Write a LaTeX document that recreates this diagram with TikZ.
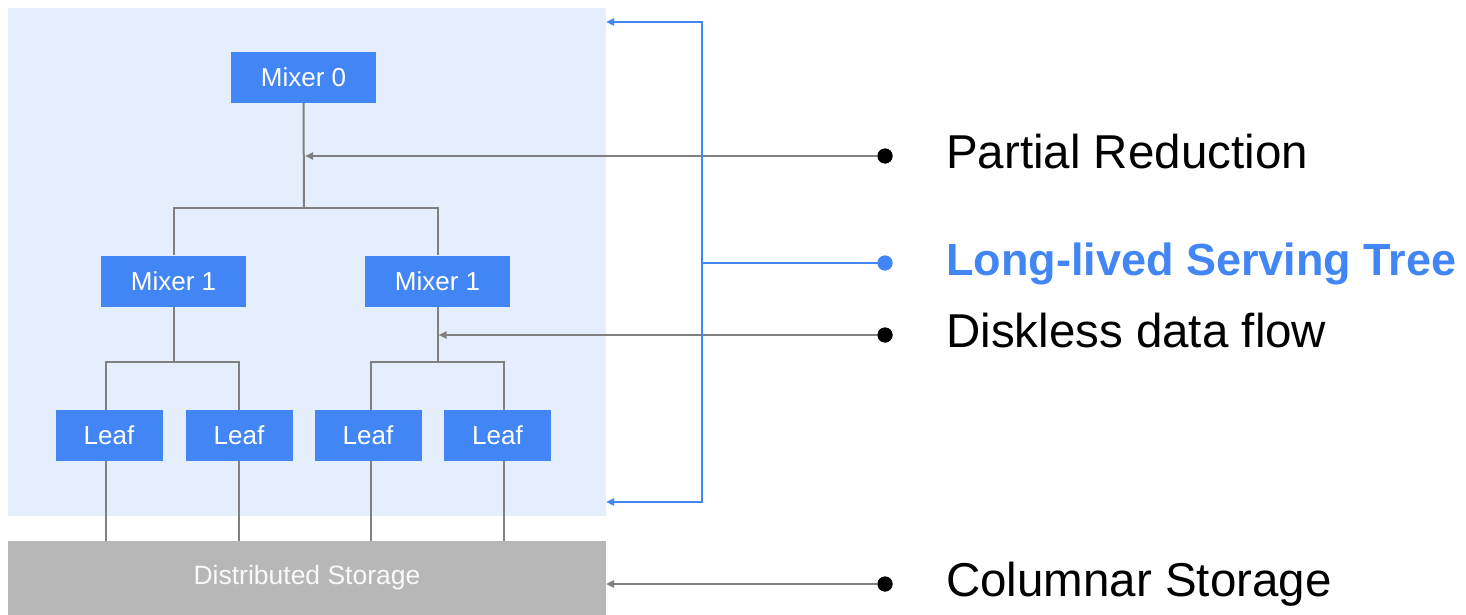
\documentclass[tikz,border=0pt]{standalone}
\usepackage{fontspec}
\setmainfont{Liberation Sans}
\usetikzlibrary{arrows.meta}
\definecolor{gblue}{HTML}{4285F4}
\definecolor{panelblue}{HTML}{E5EEFC}
\definecolor{storegray}{HTML}{B7B7B7}
\definecolor{linegray}{HTML}{808080}
\begin{document}
\begin{tikzpicture}[x=1pt,y=-1pt,
  boxnode/.style={fill=gblue,text=white,inner sep=0pt,minimum height=51pt,font=\fontsize{26}{26}\selectfont},
  mixbox/.style={boxnode,minimum width=145pt},
  leafbox/.style={boxnode,minimum width=107pt},
  tline/.style={draw=linegray,line width=2pt},
  garrow/.style={draw=linegray,line width=2pt,-{Triangle[length=8pt,width=7pt]}},
  bline/.style={draw=gblue,line width=2pt},
  dotnode/.style={circle,inner sep=0pt,minimum size=15pt},
  bigtext/.style={anchor=base west,inner sep=0pt,font=\fontsize{47.5}{47.5}\selectfont}
]
\useasboundingbox (0,0) rectangle (1466,615);
% panel and storage
\node[fill=panelblue,inner sep=0pt,minimum width=598pt,minimum height=508pt] (panel) at (307,262) {};
\node[fill=storegray,inner sep=0pt,minimum width=598pt,minimum height=74pt,text=white!95!gray,font=\fontsize{26.5}{26.5}\selectfont] (store) at (307,578) {Distributed Storage};
% boxes
\node[mixbox] (m0) at (303.5,77.5) {Mixer 0};
\node[mixbox] (m1a) at (173.5,281) {Mixer 1};
\node[mixbox] (m1b) at (437.5,281) {Mixer 1};
\node[leafbox] (l1) at (109,435.5) {Leaf};
\node[leafbox] (l2) at (239,435.5) {Leaf};
\node[leafbox] (l3) at (368,435.5) {Leaf};
\node[leafbox] (l4) at (497.5,435.5) {Leaf};
% tree connectors
\coordinate (b0) at (304,208);
\coordinate (b1a) at (173.5,362);
\coordinate (b1b) at (437.5,362);
\draw[tline] (m0.south) -- (b0);
\draw[tline] (m1a.north) |- (b0) -| (m1b.north);
\draw[tline] (m1a.south) -- (b1a);
\draw[tline] (m1b.south) -- (b1b);
\draw[tline] ([xshift=-3pt]l1.north) |- (b1a) -| (l2.north);
\draw[tline] ([xshift=3pt]l3.north) |- (b1b) -| ([xshift=6.5pt]l4.north);
\draw[tline] ([xshift=-3pt]l1.south) -- ([xshift=-3pt]l1.south |- store.north);
\draw[tline] (l2.south) -- (l2.south |- store.north);
\draw[tline] ([xshift=3pt]l3.south) -- ([xshift=3pt]l3.south |- store.north);
\draw[tline] ([xshift=6.5pt]l4.south) -- ([xshift=6.5pt]l4.south |- store.north);
% bullets
\node[dotnode,fill=black] (d1) at (885,156) {};
\node[dotnode,fill=gblue] (d4) at (885,263) {};
\node[dotnode,fill=black] (d2) at (885,335) {};
\node[dotnode,fill=black] (d3) at (885,584) {};
% gray arrows
\coordinate (a1) at (305,156);
\coordinate (a2) at (438.5,335);
\coordinate (a3) at (606,584);
\draw[garrow] (d1.center) -- (a1);
\draw[garrow] (d2.center) -- (a2);
\draw[garrow] (d3.center) -- (a3);
% blue bracket
\coordinate (pt) at (606,22);
\coordinate (bt) at (702,22);
\coordinate (bb) at (702,502);
\coordinate (pb) at (606,502);
\coordinate (bm) at (702,263);
\draw[bline,{Triangle[length=8pt,width=7pt]}-{Triangle[length=8pt,width=7pt]}] (pt) -- (bt) -- (bb) -- (pb);
\draw[bline] (d4.center) -- (bm);
\node[dotnode,fill=gblue] at (d4) {};
\node[dotnode,fill=black] at (d1) {};
\node[dotnode,fill=black] at (d2) {};
\node[dotnode,fill=black] at (d3) {};
% labels
\node[bigtext] (t1) at (946,168) {Partial Reduction};
\node[bigtext,text=gblue,font=\fontsize{45}{45}\selectfont\bfseries] (t4) at (946,275) {Long-lived Serving Tree};
\node[bigtext] (t2) at (946,347) {Diskless data flow};
\node[bigtext] (t3) at (946,596) {Columnar Storage};
\end{tikzpicture}
\end{document}
